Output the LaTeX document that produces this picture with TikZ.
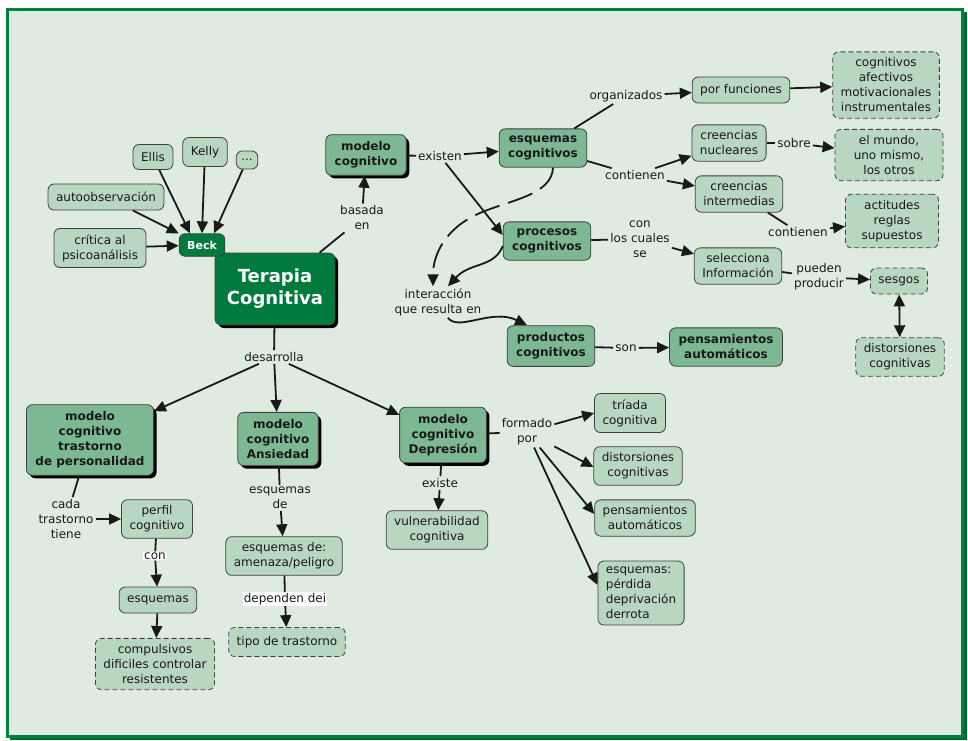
\documentclass[tikz,border=0pt]{standalone}
\usepackage{fontspec}
\setmainfont{DejaVu Sans}
\usepackage{tikz}
\usetikzlibrary{arrows.meta,shadows}
\definecolor{fondo}{RGB}{223,235,224}
\definecolor{marco}{RGB}{0,132,61}
\definecolor{marcosombra}{RGB}{0,105,50}
\definecolor{verdeoscuro}{RGB}{0,122,61}
\definecolor{verdemedio}{RGB}{125,184,148}
\definecolor{verdeclaro}{RGB}{184,215,192}

\begin{document}
\begin{tikzpicture}[x=1pt, y=-1pt,
  every node/.style={font=\fontsize{12}{15}\selectfont, align=center, text=black!90},
  claro/.style={draw=black!75, line width=0.8pt, fill=verdeclaro, rounded corners=6pt, inner xsep=8pt, inner ysep=6pt, minimum height=26pt},
  punteado/.style={claro, dash pattern=on 5pt off 3pt},
  medio/.style={draw=black!75, line width=0.8pt, fill=verdemedio, rounded corners=6pt, inner xsep=9pt, inner ysep=7pt, font=\fontsize{12}{15}\selectfont\bfseries},
  oscuro/.style={draw=black!75, line width=0.8pt, fill=verdeoscuro, rounded corners=6pt, text=white, font=\fontsize{11}{14}\selectfont\bfseries},
  sombra/.style={drop shadow={shadow xshift=3pt, shadow yshift=-3pt, fill=black, opacity=1}},
  enlace/.style={inner sep=2pt},
  blanco/.style={fill=white, inner sep=1pt},
  >={Triangle[length=12pt, width=11pt]},
  linea/.style={line width=1.8pt, draw=black!90}
]
\useasboundingbox (0,0) rectangle (968,740);
\fill[white] (0,0) rectangle (968,740);
\fill[marcosombra] (10,12) rectangle (967,740);
\draw[fill=fondo, draw=marco, line width=3pt] (7.5,9.5) rectangle (962.5,736.5);

\node[oscuro, sombra, minimum width=120pt, minimum height=72pt, font=\fontsize{18}{22}\selectfont\bfseries] (tc) at (275,289) {Terapia\\Cognitiva};
\node[oscuro, inner xsep=8pt, inner ysep=7pt] (beck) at (202,245) {Beck};
\node[claro, minimum height=25pt] (ellis) at (153,157) {Ellis};
\node[claro, minimum height=29pt] (kelly) at (205,152) {Kelly};
\node[claro, inner xsep=5pt, inner ysep=2pt, minimum height=18pt] (dots) at (247,160) {...};
\node[claro] (auto) at (106,197) {autoobservación};
\node[claro] (crit) at (100,248) {crítica al\\psicoanálisis};

\node[medio, sombra] (mc) at (366,155) {modelo\\cognitivo};
\node[enlace] (bas) at (362,218) {basada\\en};
\node[enlace] (exi) at (440,156) {existen};
\node[medio] (esq) at (543,148) {esquemas\\cognitivos};
\node[medio] (proc) at (547,241) {procesos\\cognitivos};
\node[enlace] (inter) at (438,302) {interacción\\que resulta en};
\node[medio] (prod) at (551,346) {productos\\cognitivos};
\node[enlace] (son) at (626,348) {son};
\node[medio] (pens) at (726,347) {pensamientos\\automáticos};

\node[enlace] (org) at (626,96) {organizados};
\node[claro] (func) at (741,90) {por funciones};
\node[punteado] (tipos) at (886,85) {cognitivos\\afectivos\\motivacionales\\instrumentales};
\node[enlace] (cont) at (635,175) {contienen};
\node[claro] (nuc) at (729,143) {creencias\\nucleares};
\node[enlace] (sob) at (794,143) {sobre};
\node[punteado, minimum width=108pt] (mundo) at (889,155) {el mundo,\\uno mismo,\\los otros};
\node[claro] (inte) at (739,194) {creencias\\intermedias};
\node[enlace] (cont2) at (798,232) {contienen};
\node[punteado, minimum width=93pt] (act) at (892,221) {actitudes\\reglas\\supuestos};
\node[enlace] (cuales) at (640,239) {con\\los cuales\\se};
\node[claro] (sel) at (738,266) {selecciona\\Información};
\node[enlace] (pued) at (819,277) {pueden\\producir};
\node[punteado] (ses) at (899,281) {sesgos};
\node[punteado] (dist) at (900,357) {distorsiones\\cognitivas};

\node[enlace] (des) at (274,357) {desarrolla};
\node[medio, sombra] (tras) at (90,440) {modelo\\cognitivo\\trastorno\\de personalidad};
\node[medio, sombra] (ans) at (278,439) {modelo\\cognitivo\\Ansiedad};
\node[medio, sombra] (dep) at (443,435) {modelo\\cognitivo\\Depresión};
\node[enlace] (cada) at (66,519) {cada\\trastorno\\tiene};
\node[claro] (perf) at (157,519) {perfil\\cognitivo};
\node[blanco] (con) at (155,556) {con};
\node[claro] (esqs) at (158,600) {esquemas};
\node[punteado] (comp) at (155,664) {compulsivos\\dificiles controlar\\resistentes};
\node[enlace] (esqde) at (280,498) {esquemas\\de};
\node[claro] (amen) at (284,556) {esquemas de:\\amenaza/peligro};
\node[blanco] (depd) at (285,599) {dependen dei};
\node[punteado, minimum height=29pt] (tipo) at (287,642) {tipo de trastorno};
\node[enlace] (exis) at (440,483) {existe};
\node[claro] (vul) at (437,530) {vulnerabilidad\\cognitiva};
\node[enlace] (form) at (527,432) {formado\\por};
\node[claro] (tri) at (630,413) {tríada\\cognitiva};
\node[claro] (dis2) at (638,466) {distorsiones\\cognitivas};
\node[claro] (pen2) at (645,518) {pensamientos\\automáticos};
\node[claro, align=left] (esq2) at (641,593) {esquemas:\\pérdida\\deprivación\\derrota};

\begin{scope}[linea]
\draw[->] (auto) -- (beck);
\draw[->] (crit) -- (beck);
\draw[->] (ellis) -- ([xshift=-12pt]beck.north);
\draw[->] (kelly) -- (beck.north);
\draw[->] (dots) -- ([xshift=12pt]beck.north);
\draw (tc) -- (bas); \draw[->] (bas) -- (mc);
\draw (mc) -- (exi); \draw[->] (exi) -- (esq); \draw[->] (exi) -- ([yshift=6pt]proc.west);
\draw (esq) -- (org); \draw[->] (org) -- (func); \draw[->] (func) -- (tipos);
\draw (esq) -- (cont); \draw[->] (cont) -- (nuc); \draw[->] (cont) -- (inte);
\draw (nuc) -- (sob); \draw[->] (sob) -- (mundo);
\draw (inte) -- (cont2); \draw[->] (cont2) -- (act);
\draw (proc) -- (cuales); \draw[->] (cuales) -- (sel);
\draw (sel) -- (pued); \draw[->] (pued) -- (ses);
\draw[<->] (ses) -- (dist);
\draw (prod) -- (son); \draw[->] (son) -- (pens);
\draw[->, dash pattern=on 26pt off 9pt] ([xshift=10pt]esq.south) .. controls (552,195) and (510,200) .. (480,213) .. controls (445,228) and (433,255) .. ([xshift=-5pt]inter.north);
\draw[->] ([yshift=-5pt]proc.west) .. controls (494,268) and (470,262) .. ([xshift=10pt]inter.north);
\draw[->] ([xshift=10pt]inter.south) .. controls (458,332) and (492,308) .. ([xshift=-24pt]prod.north);
\draw (tc) -- (des); \draw[->] (des) -- (tras); \draw[->] (des) -- (ans); \draw[->] (des) -- (dep);
\draw (tras) -- (cada); \draw[->] (cada) -- (perf);
\draw (perf) -- (con); \draw[->] (con) -- (esqs); \draw[->] (esqs) -- (comp);
\draw (ans) -- (esqde); \draw[->] (esqde) -- (amen);
\draw (amen) -- (depd); \draw[->] (depd) -- (tipo);
\draw (dep) -- (exis); \draw[->] (exis) -- (vul);
\draw (dep) -- (form); \draw[->] (form) -- (tri.west);
\draw[->] (form) -- ([yshift=-1pt]dis2.west);
\draw[->] (form) -- ([yshift=4pt]pen2.west);
\draw[->] (form) -- ([yshift=8pt]esq2.west);
\end{scope}
\end{tikzpicture}
\end{document}
